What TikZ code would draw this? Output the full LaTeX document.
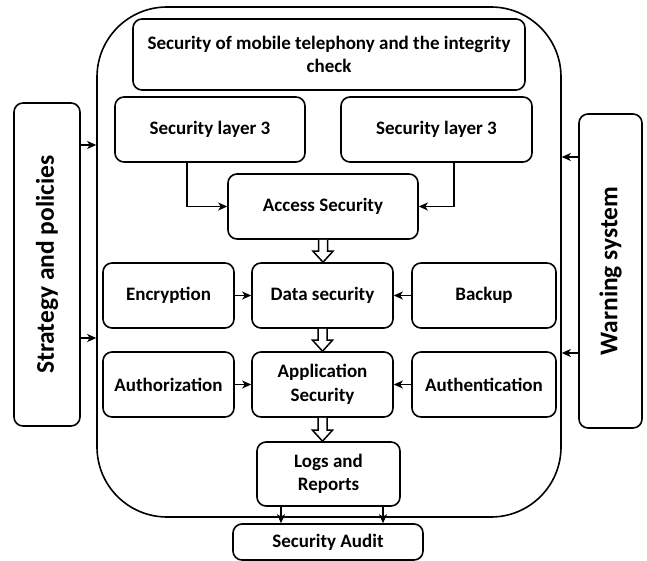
\documentclass[tikz,border=0pt]{standalone}
\usepackage{fontspec}
\setmainfont{Carlito}
\usetikzlibrary{arrows.meta,calc}

\tikzset{
  box/.style={draw, line width=1.6pt, rounded corners=9pt, align=center,
    inner sep=2pt, font=\bfseries\fontsize{19}{23.5}\selectfont},
  sidebox/.style={box, rotate=90, font=\bfseries\fontsize{25.5}{30}\selectfont},
  arr/.style={line width=1.6pt, -{Stealth[length=9pt,width=8pt,inset=2.5pt]}},
  fat/.style={draw, line width=1.5pt, fill=white, line join=miter},
}

% hollow block arrow from the bottom of one node to the top of another
\newcommand\blockarrow[2]{%
  \path[fat] let \p1=(#1.south), \p2=(#2.north) in
    ({\x1-4.5pt},{\y1}) -- ({\x1-4.5pt},{\y2+11pt}) -- ({\x1-10pt},{\y2+11pt})
    -- ({\x1},{\y2}) -- ({\x1+10pt},{\y2+11pt}) -- ({\x1+4.5pt},{\y2+11pt})
    -- ({\x1+4.5pt},{\y1});}

\begin{document}
\begin{tikzpicture}[x=1pt,y=-1pt]
\useasboundingbox (0,0) rectangle (647,561);

% enclosing frame
\node[draw, line width=1.6pt, rounded corners=70pt, minimum width=464pt,
      minimum height=510pt] (outer) at (329,262) {};

% inner blocks
\node[box, minimum width=392pt, minimum height=71pt] (mobile) at (329,54.5)
  {Security of mobile telephony and the integrity\\check};
\node[box, minimum width=190pt, minimum height=65pt] (layerA) at (210,129.5) {Security layer 3};
\node[box, minimum width=191pt, minimum height=65pt] (layerB) at (436.5,129.5) {Security layer 3};
\node[box, minimum width=190pt, minimum height=65pt] (access) at (323,206.5) {Access Security};

\node[box, minimum width=141pt, minimum height=65pt] (data) at (322.5,295.5) {Data security};
\node[box, minimum width=131pt, minimum height=65pt] (enc) at (168.5,295.5) {Encryption};
\node[box, minimum width=144pt, minimum height=65pt] (backup) at (484,295.5) {Backup};

\node[box, minimum width=141pt, minimum height=65pt] (app) at (322.5,384.5) {Application\\Security};
\node[box, minimum width=131pt, minimum height=65pt] (authz) at (168.5,384.5) {Authorization};
\node[box, minimum width=144pt, minimum height=65pt] (authn) at (484,384.5) {Authentication};

\node[box, minimum width=143pt, minimum height=64pt] (logs) at (328.5,474) {Logs and\\Reports};
\node[box, minimum width=190pt, minimum height=36pt] (audit) at (328,542) {Security Audit};

% side blocks
\node[sidebox, minimum width=323pt, minimum height=66pt] (strategy) at (47,264.5) {Strategy and policies};
\node[sidebox, minimum width=314pt, minimum height=63pt] (warning) at (610.5,271) {Warning system};

% connectors
\draw[arr] (layerA.south -| 187,0) |- (access.west);
\draw[arr] (layerB.south -| 454,0) |- (access.east);
\draw[arr] (enc) -- (data);
\draw[arr] (backup) -- (data);
\draw[arr] (authz) -- (app);
\draw[arr] (authn) -- (app);
\draw[arr] (logs.south -| 281,0) -- (audit.north -| 281,0);
\draw[arr] (logs.south -| 383,0) -- (audit.north -| 383,0);

\draw[arr] (strategy.south |- 0,145) -- (outer.west |- 0,145);
\draw[arr] (strategy.south |- 0,338) -- (outer.west |- 0,338);
\draw[arr] (warning.north |- 0,157) -- (outer.east |- 0,157);
\draw[arr] (warning.north |- 0,353) -- (outer.east |- 0,353);

\blockarrow{access}{data}
\blockarrow{data}{app}
\blockarrow{app}{logs}
\end{tikzpicture}
\end{document}
